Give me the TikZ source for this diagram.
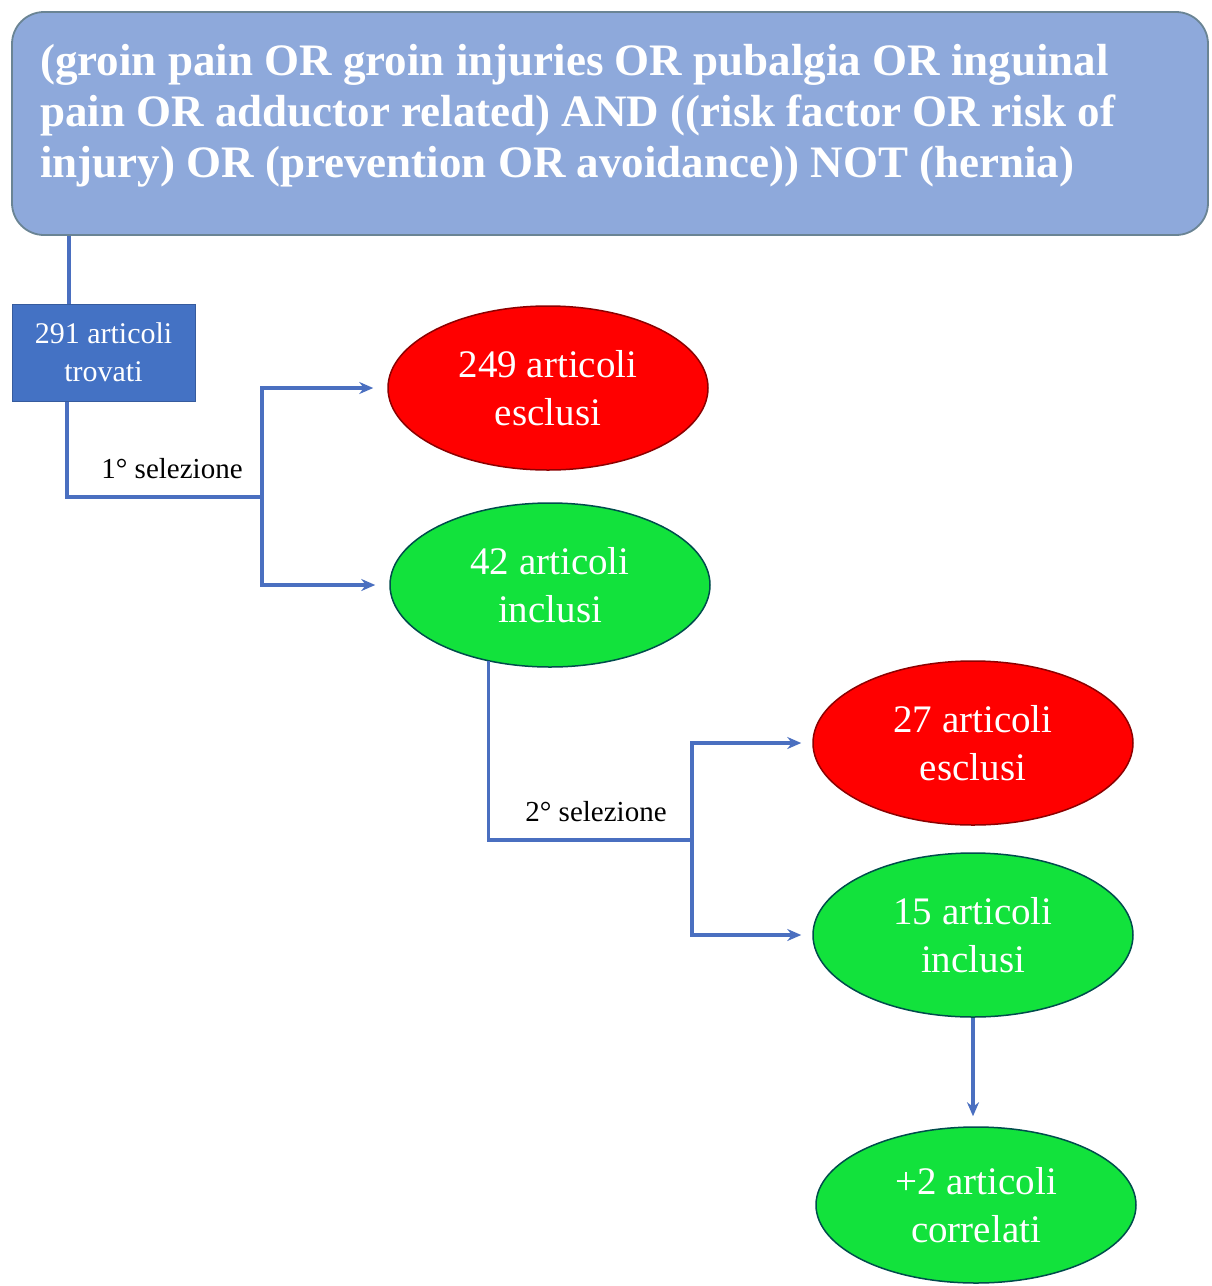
\documentclass[tikz,border=0pt]{standalone}
\usepackage{fontspec}
\setmainfont{Liberation Serif}
\usetikzlibrary{shapes.geometric,arrows.meta}
\definecolor{topfill}{HTML}{8EA9DB}
\definecolor{topdraw}{HTML}{6A8494}
\definecolor{boxblue}{HTML}{4472C4}
\definecolor{conncol}{HTML}{4A6FC0}
\definecolor{redfill}{HTML}{FF0000}
\definecolor{greenfill}{HTML}{12E23C}
\begin{document}
\begin{tikzpicture}[x=1pt,y=-1pt,
 conn/.style={draw=conncol,line width=3.2pt},
 arr/.style={conn,-{Stealth[length=14pt,width=12pt]}},
 ell/.style={ellipse,minimum width=320pt,minimum height=164pt,inner sep=0pt,align=center,text=white,font=\fontsize{39}{48}\selectfont,line width=1.5pt},
 redell/.style={ell,fill=redfill,draw=red!55!black},
 greenell/.style={ell,fill=greenfill,draw=teal!60!black},
 lab/.style={font=\fontsize{29}{32}\selectfont,text=black,inner sep=0pt}]
\useasboundingbox (0,0) rectangle (1211,1286);
\node[draw=topdraw,fill=topfill,rounded corners=32pt,line width=1.8pt,minimum width=1196pt,minimum height=223pt,inner sep=0pt] (top) at (610,123.5) {};
\node[anchor=north west,text=white,font=\bfseries\fontsize{45}{51}\selectfont,align=left,inner sep=0pt] (query) at (40,44) {(groin pain OR groin injuries OR pubalgia OR inguinal\\pain OR adductor related) AND ((risk factor OR risk of\\injury) OR (prevention OR avoidance)) NOT (hernia)};
\node[fill=boxblue,draw=boxblue!80!black,line width=1pt,minimum width=183pt,minimum height=97pt,text=white,font=\fontsize{30}{38}\selectfont,align=center,inner sep=0pt] (trov) at (103.5,352.5) {291 articoli\\trovati};
\node[redell] (r1) at (548,388) {249 articoli\\esclusi};
\node[greenell] (g1) at (550,585) {42 articoli\\inclusi};
\node[redell] (r2) at (973,743) {27 articoli\\esclusi};
\node[greenell] (g2) at (973,935) {15 articoli\\inclusi};
\node[greenell,minimum height=156pt] (g3) at (976,1205) {+2 articoli\\correlati};
\node[lab] (sel1) at (172,469) {1° selezione};
\node[lab] (sel2) at (596,812) {2° selezione};
\coordinate (xa) at (69,0);
\coordinate (xb) at (67,0);
\coordinate (j1) at (262,497);
\coordinate (j2) at (692,840);
\draw[conn] (top.south -| xa) -- (trov.north -| xa);
\draw[conn] (trov.south -| xb) |- (j1);
\draw[arr,shorten >=14pt] (j1) |- (r1.west);
\draw[arr,shorten >=14pt] (j1) |- (g1.west);
\draw[conn] (g1.231) |- (j2);
\draw[arr,shorten >=11pt] (j2) |- (r2.west);
\draw[arr,shorten >=11pt] (j2) |- (g2.west);
\draw[arr,shorten >=10pt] (g2.south) -- (g3.north -| g2.south);
\end{tikzpicture}
\end{document}
